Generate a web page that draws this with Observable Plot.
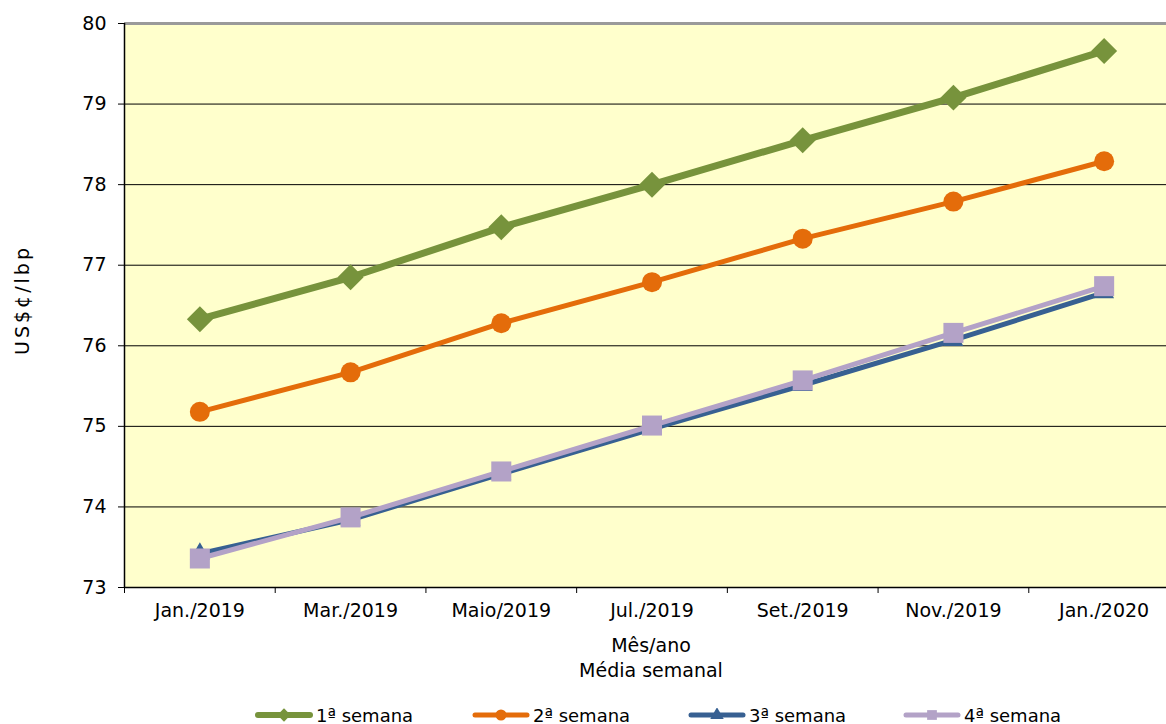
<!DOCTYPE html>
<html><head><meta charset="utf-8">
<script src="https://cdn.jsdelivr.net/npm/d3@7"></script>
<script src="https://cdn.jsdelivr.net/npm/@observablehq/plot@0.6"></script>
<style>
body{margin:0;background:#fff;overflow:hidden;font-family:"DejaVu Sans",sans-serif;color:#000;}
#wrap{position:relative;width:1166px;height:724px;overflow:hidden;}
#chart{position:absolute;left:0;top:0;width:1180px;}
#chart svg{max-width:none !important;width:1180px !important;height:625px !important;}
#ylab{position:absolute;left:22px;top:300px;transform:translate(-50%,-50%) rotate(-90deg);font-size:19px;letter-spacing:3px;white-space:nowrap;}
#xlab{position:absolute;left:651px;top:633px;transform:translateX(-50%);font-size:19px;line-height:25px;text-align:center;white-space:nowrap;}
.leg{position:absolute;top:703px;height:24px;display:flex;align-items:center;font-size:18px;white-space:nowrap;}
.leg svg{display:block;margin-right:3px;}
</style></head><body>
<div id="wrap"><div id="chart"></div>
<div id="ylab">US$¢/lbp</div>
<div id="xlab">Mês/ano<br>Média semanal</div>
</div>
<script>
const months = ["Jan./2019","Mar./2019","Maio/2019","Jul./2019","Set./2019","Nov./2019","Jan./2020"];
const semana1 = [76.33, 76.85, 77.47, 78.00, 78.55, 79.08, 79.66];
const semana2 = [75.18, 75.67, 76.28, 76.79, 77.33, 77.79, 78.29];
const semana3 = [73.42, 73.84, 74.41, 74.97, 75.51, 76.07, 76.66];
const semana4 = [73.36, 73.87, 74.44, 75.01, 75.57, 76.16, 76.74];
const seriesNames = ["1ª semana","2ª semana","3ª semana","4ª semana"];
const seriesColors = ["#77933C","#E46C0A","#376092","#B3A2C7"];
const yTicks = [73,74,75,76,77,78,79,80];

const allSeries = [semana1, semana2, semana3, semana4];
const styles = [
  {sw: 7, symbol: "diamond2", r: 11.7, lsym: "diamond2", lr: 6},
  {sw: 5, symbol: "circle", r: 10, lsym: "circle", lr: 5.5},
  {sw: 5, symbol: "triangle", r: 7.4, lsym: "triangle", lr: 5},
  {sw: 5, symbol: "square", r: 11.3, lsym: "square", lr: 5.5}
];

const W = 1180, ML = 124, MR = 1;
const step = (W - ML - MR) / months.length;

const marks = [
  Plot.frame({fill: "#FFFFCC", stroke: null}),
  Plot.ruleY(yTicks.slice(1, -1), {stroke: "#000", strokeWidth: 1}),
  Plot.ruleY([yTicks[yTicks.length-1]], {stroke: "#9a9a9a", strokeWidth: 3}),
  Plot.ruleY([yTicks[0]], {stroke: "#000", strokeWidth: 1.5}),
  Plot.ruleX([months[0]], {dx: -step/2, stroke: "#000", strokeWidth: 1.5})
];
allSeries.forEach((vals, i) => {
  const rows = months.map((m, j) => ({month: m, value: vals[j]}));
  marks.push(Plot.line(rows, {x: "month", y: "value", stroke: seriesColors[i], strokeWidth: styles[i].sw, strokeLinejoin: "round"}));
  marks.push(Plot.dot(rows, {x: "month", y: "value", symbol: () => styles[i].symbol, r: styles[i].r, fill: seriesColors[i], stroke: "none"}));
});
marks.push(Plot.axisX({tickSize: 6, tickFormat: () => "", dx: -step/2, stroke: "#000"}));
marks.push(Plot.axisX({tickSize: 0, tickPadding: 16, fontSize: 19, fill: "#000"}));
marks.push(Plot.axisY(yTicks, {tickSize: 6, tickPadding: 12, fontSize: 19, stroke: "#000", fill: "#000", tickFormat: d3.format("d")}));

const chart = Plot.plot({
  width: W, height: 625,
  marginLeft: ML, marginRight: MR, marginTop: 23, marginBottom: 38,
  style: {fontFamily: "DejaVu Sans, sans-serif", fontSize: "19px", color: "#000", background: "transparent", overflow: "visible", maxWidth: "none"},
  x: {type: "band", domain: months, padding: 0, round: false, label: null, axis: null},
  y: {domain: [73, 80], label: null, axis: null},
  symbol: {type: "identity"},
  marks
});
document.getElementById("chart").appendChild(chart);

// legend
const wrap = document.getElementById("wrap");
const legLeft = [255, 472, 688, 903];
seriesNames.forEach((name, i) => {
  const d = document.createElement("div");
  d.className = "leg";
  d.style.left = legLeft[i] + "px";
  const sym = d3.symbol(d3["symbol" + {diamond2: "Diamond2", circle: "Circle", triangle: "Triangle", square: "Square"}[styles[i].lsym]], Math.PI * styles[i].lr ** 2)();
  d.innerHTML = `<svg width="58" height="14"><line x1="3" x2="55" y1="7" y2="7" stroke="${seriesColors[i]}" stroke-width="${i===0?6:5}" stroke-linecap="round"/><path transform="translate(29,7)" d="${sym}" fill="${seriesColors[i]}"/></svg><span>${name}</span>`;
  wrap.appendChild(d);
});
</script>
</body></html>
